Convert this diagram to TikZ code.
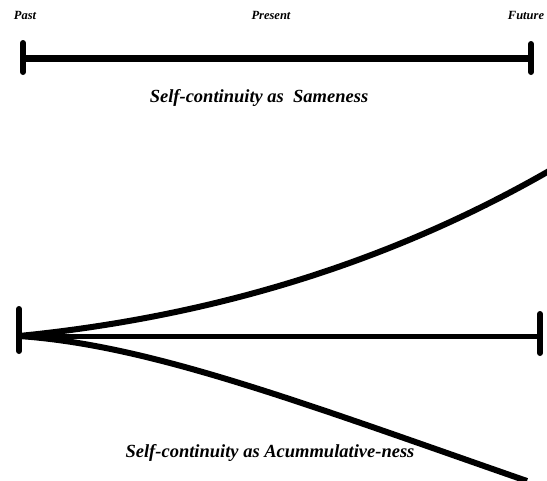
\documentclass[tikz,border=0pt]{standalone}
\usepackage{fontspec}
\setmainfont{Liberation Serif}
\usepackage{tikz}

\begin{document}
\begin{tikzpicture}[%show background rectangle,
        x=1pt, y=-1pt,
        zeit/.style={font=\bfseries\itshape\fontsize{12.5}{12.5}\selectfont},
        titel/.style={font=\bfseries\itshape\fontsize{18.5}{18.5}\selectfont},
        linie/.style={draw, line width=6pt},
        strich/.style={draw, line width=6pt, line cap=round}
        ]
            \useasboundingbox (0,0) rectangle (547,480);

            % Punkte oben
            \coordinate (P1) at (23,58);
            \coordinate (F1) at (531,58);
            % Punkte unten
            \coordinate (P2) at (19,336);
            \coordinate (F2) at (540,336);
            \coordinate (O2) at (549,171);
            \coordinate (U2) at (527,481);

            % Zeitachse, Gleichheit
            \draw [linie, line width=7pt]   (P1) -- (F1);
            \draw [strich]  ([yshift=-14pt]P1) -- ([yshift=15pt]P1)
                            ([yshift=-14pt]F1) -- ([yshift=14pt]F1);

            % Zeitachse, Akkumulation
            \draw [linie, line width=5pt]   (P2) -- (F2);
            \draw [linie]   (P2) .. controls (200,318) and (380,268) .. (O2)
                            (P2) .. controls (150,345) and (300,402) .. (U2);
            \draw [strich]  ([yshift=-15pt]P2) -- ([yshift=27pt]P2)
                            ([yshift=-17pt]F2) -- ([yshift=22pt]F2);

            % Beschriftung
            \node [zeit] (past)    at (25,15)  {Past};
            \node [zeit] (present) at (271,15) {Present};
            \node [zeit] (future)  at (526,15) {Future};
            \node [titel] (same)   at (259,98)  {Self-continuity as\ \ Sameness};
            \node [titel] (accu)   at (270,453) {Self-continuity as Acummulative-ness};

        \end{tikzpicture}
\end{document}
